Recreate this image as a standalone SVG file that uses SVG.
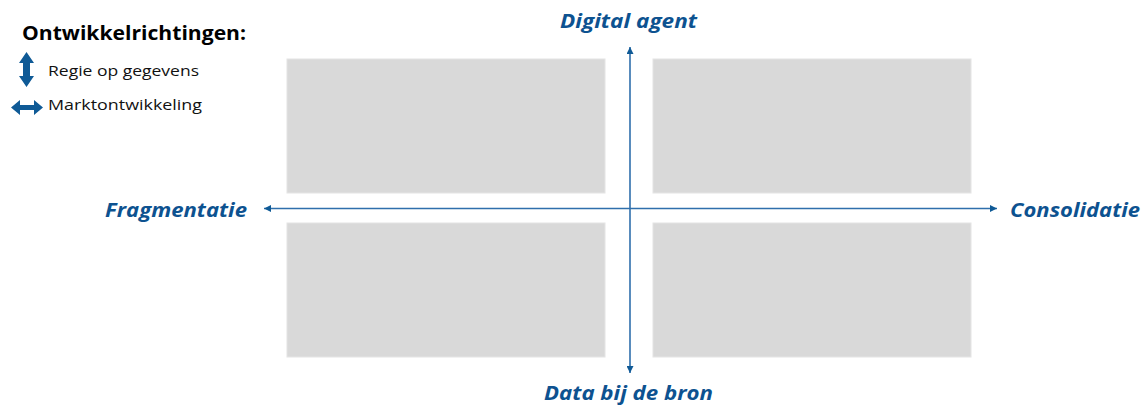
<svg xmlns="http://www.w3.org/2000/svg" width="1144" height="406" viewBox="0 0 1144 406">
<style>
.box{fill:#d9d9d9;stroke:#e4e4e4;stroke-width:1}
.axis{stroke:#2f6fac;stroke-width:1.6;fill:none}
.lbl{font-family:"Open Sans","Liberation Sans",sans-serif;font-weight:bold;font-style:italic;font-size:20px;fill:#0d5290}
.leg{font-family:"Open Sans","Liberation Sans",sans-serif;font-size:15px;fill:#111}
.title{font-family:"Open Sans","Liberation Sans",sans-serif;font-weight:bold;font-size:20px;fill:#000}
.icon{fill:#0f5a96}
</style>
<defs>
<marker id="ah" viewBox="0 0 10 10" refX="10" refY="5" markerWidth="7" markerHeight="7" markerUnits="userSpaceOnUse" orient="auto">
<path d="M0,0 L10,5 L0,10 z" fill="#0f5a96"/>
</marker>
</defs>
<rect width="1144" height="406" fill="#fff"/>
<g id="legend">
<text class="title" x="22" y="40" textLength="224" lengthAdjust="spacingAndGlyphs">Ontwikkelrichtingen:</text>
<path class="icon" d="M26.5,52 L34,63 L30,63 L30,76 L34,76 L26.5,87 L19,76 L23,76 L23,63 L19,63 Z"/>
<text class="leg" x="48" y="76" textLength="151" lengthAdjust="spacingAndGlyphs">Regie op gegevens</text>
<path class="icon" d="M11,107.5 L20,100 L20,105 L34,105 L34,100 L43,107.5 L34,115 L34,110 L20,110 L20,115 Z"/>
<text class="leg" x="48" y="110" textLength="154" lengthAdjust="spacingAndGlyphs">Marktontwikkeling</text>
</g>
<g id="q-top-left"><rect class="box" x="287" y="59" width="318" height="134"/></g>
<g id="q-top-right"><rect class="box" x="653" y="59" width="318" height="134"/></g>
<g id="q-bottom-left"><rect class="box" x="287" y="223" width="318" height="134"/></g>
<g id="q-bottom-right"><rect class="box" x="653" y="223" width="318" height="134"/></g>
<g id="connectors">
<line class="axis" x1="630" y1="208.5" x2="630" y2="47" marker-end="url(#ah)"/>
<line class="axis" x1="630" y1="208.5" x2="630" y2="373" marker-end="url(#ah)"/>
<line class="axis" x1="630" y1="208.5" x2="264" y2="208.5" marker-end="url(#ah)"/>
<line class="axis" x1="630" y1="208.5" x2="997" y2="208.5" marker-end="url(#ah)"/>
</g>
<g id="label-top"><text class="lbl" x="628.5" y="28" text-anchor="middle" textLength="137" lengthAdjust="spacingAndGlyphs">Digital agent</text></g>
<g id="label-bottom"><text class="lbl" x="628.5" y="400" text-anchor="middle" textLength="169" lengthAdjust="spacingAndGlyphs">Data bij de bron</text></g>
<g id="label-left"><text class="lbl" x="105" y="217" textLength="142" lengthAdjust="spacingAndGlyphs">Fragmentatie</text></g>
<g id="label-right"><text class="lbl" x="1010" y="217" textLength="130" lengthAdjust="spacingAndGlyphs">Consolidatie</text></g>
</svg>
